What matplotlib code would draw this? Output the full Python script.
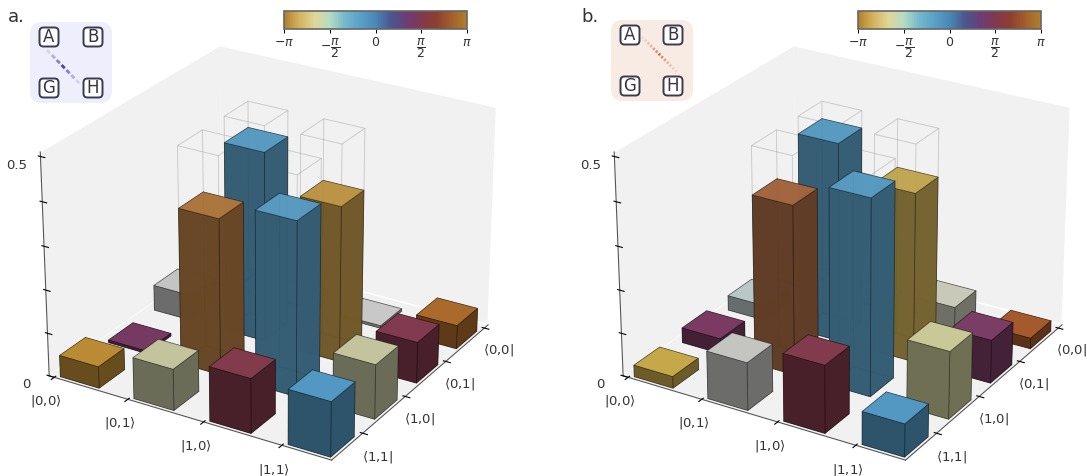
import numpy as np
import matplotlib
matplotlib.use('Agg')
import matplotlib.pyplot as plt
from matplotlib.colors import LinearSegmentedColormap, Normalize, to_rgb
from matplotlib.cm import ScalarMappable
from matplotlib.patches import FancyBboxPatch

kets = [r'$|0{,}0\rangle$', r'$|0{,}1\rangle$', r'$|1{,}0\rangle$', r'$|1{,}1\rangle$']
bras = [r'$\langle0{,}0|$', r'$\langle0{,}1|$', r'$\langle1{,}0|$', r'$\langle1{,}1|$']
phase_labels = [r'$-\pi$', r'$-\dfrac{\pi}{2}$', '$0$', r'$\dfrac{\pi}{2}$', r'$\pi$']
phase_ticks = [-np.pi, -np.pi / 2, 0, np.pi / 2, np.pi]

# rows are the bras <0,0| .. <1,1|, columns the kets |0,0> .. |1,1>
heights_a = [[0.004, 0.004, 0.006, 0.055],
             [0.06, 0.44, 0.36, 0.095],
             [0.006, 0.36, 0.40, 0.125],
             [0.05, 0.095, 0.125, 0.125]]
colors_a = [['#c8c8c8', '#c8c8c8', '#c8c8c8', '#aa6a2c'],
            ['#c4c4c4', '#5ba0c8', '#c49a48', '#823a50'],
            ['#763a62', '#b37a40', '#5ba0c8', '#c3c49e'],
            ['#bb8a35', '#c3c49e', '#823a4d', '#5298c2']]
heights_b = [[0.004, 0.004, 0.05, 0.025],
             [0.035, 0.46, 0.39, 0.10],
             [0.035, 0.39, 0.45, 0.155],
             [0.027, 0.11, 0.155, 0.075]]
colors_b = [['#c8c8c8', '#c8c8c8', '#c8c9b8', '#a55a2e'],
            ['#b8c8c6', '#5ba0c8', '#c9ad55', '#7a3d66'],
            ['#7a3a62', '#a86a42', '#5ba0c8', '#c9c998'],
            ['#c4a84a', '#c4c4c0', '#823a4d', '#5298c2']]
ideal_tall = [(1, 1), (2, 1), (1, 2), (2, 2)]
ideal_height = 0.5

dash_alpha = [0.15, 0.35, 0.6, 0.95, 0.6, 0.35, 0.15]
dot_alpha = [0.12, 0.2, 0.3, 0.4, 0.55, 0.7, 0.9, 0.7, 0.55, 0.4, 0.3, 0.2, 0.12]

cmap = LinearSegmentedColormap.from_list('phase', [
    '#b0802e', '#d4b45e', '#dfd698', '#b4dcc4', '#74b8cc', '#5ba0c8', '#4a88b5',
    '#4b568e', '#6a3e78', '#823850', '#8c3f30', '#a25f2a', '#b0802e'])
norm = Normalize(-np.pi, np.pi)


def draw_hist(fig, left, heights, colors):
    ax = fig.add_axes([left, -0.054, 0.547, 1.064], projection='3d')
    ax.view_init(elev=25.5, azim=-59)
    ax.set_box_aspect((4, 4, 3.0))
    xs, ys, hs, faces = [], [], [], []
    for j in range(4):
        for i in range(4):
            xs.append(i + 0.05)
            ys.append(j + 0.12)
            hs.append(heights[j][i])
            c = np.array(to_rgb(colors[j][i]))
            # the tall bars are a little see-through
            if (i, j) in ideal_tall:
                side = (*(c * 0.58), 0.9)
                top = (*c, 0.9)
            else:
                side = (*(c * 0.55), 1.0)
                top = (*c, 1.0)
            # order wanted by bar3d: -z, +z, -y, +y, -x, +x
            faces += [side, top, side, side, side, side]
    ax.bar3d(xs, ys, 0, 0.53, 0.53, hs, color=faces, edgecolor=(0, 0, 0, 0.35),
             linewidth=0.6, shade=False)
    for i, j in ideal_tall:
        ax.bar3d(i + 0.05, j + 0.12, 0, 0.53, 0.53, ideal_height, color=(0, 0, 0, 0),
                 edgecolor=(0.5, 0.5, 0.5, 0.2), linewidth=0.6, shade=False)
    ax.set_xlim(-0.07, 3.62)
    ax.set_ylim(3.7, -0.1)
    ax.set_zlim(0, 0.51)
    ax.set_xticks([0, 1, 2, 3])
    ax.set_xticklabels(kets, fontsize=9.5, color='#333333')
    ax.set_yticks([0, 1, 2, 3])
    ax.set_yticklabels(bras, fontsize=9.5, color='#333333')
    ax.set_zticks([0, 0.1, 0.2, 0.3, 0.4, 0.5])
    ax.set_zticklabels(['0', '', '', '', '', '0.5'], fontsize=9.5, color='#333333', va='top')
    ax.grid(False)
    ax.zaxis._axinfo['juggled'] = (1, 2, 0)
    for axis in (ax.xaxis, ax.yaxis, ax.zaxis):
        axis.set_pane_color((0.945, 0.945, 0.945, 1))
        axis.pane.set_edgecolor((1, 1, 1, 0))
        axis.line.set_color('#555555')
        axis.line.set_linewidth(0.8)
    ax.tick_params(axis='x', pad=0.5)
    ax.tick_params(axis='y', pad=1.5)
    ax.tick_params(axis='z', pad=1.5)
    return ax


def draw_inset(over, box, nodes, link, box_col, line_col, alphas, fill):
    over.add_patch(FancyBboxPatch((box[0], box[1]), box[2], box[3],
                                  boxstyle='round,pad=0,rounding_size=12', fc=box_col, ec='none'))
    n = len(alphas)
    (ax0, ay0), (ax1, ay1) = link
    for k, a in enumerate(alphas):
        over.plot([ax0 + (ax1 - ax0) * k / n, ax0 + (ax1 - ax0) * (k + fill) / n],
                  [ay0 + (ay1 - ay0) * k / n, ay0 + (ay1 - ay0) * (k + fill) / n],
                  color=line_col, alpha=a, lw=2, solid_capstyle='butt')
    for name, (cx, cy) in nodes.items():
        over.add_patch(FancyBboxPatch((cx - 9.5, cy - 9.5), 19, 19, boxstyle='round,pad=0,rounding_size=4',
                                      fc='white', ec='#3a3a50', lw=1.4, zorder=4))
        over.text(cx, cy, name, ha='center', va='center', fontsize=12, color='#333344', zorder=5)


def draw_bar(fig, x0):
    cax = fig.add_axes([x0 / 1087, 1 - 29 / 476, 183 / 1087, 18 / 476])
    cb = fig.colorbar(ScalarMappable(norm=norm, cmap=cmap), cax=cax, orientation='horizontal')
    cb.set_ticks(phase_ticks)
    cb.set_ticklabels(phase_labels, fontsize=9, color='#333333')
    cb.ax.tick_params(length=3, width=0.7, pad=2)
    cb.outline.set_linewidth(1.2)
    cb.outline.set_edgecolor('#666666')


fig = plt.figure(figsize=(10.87, 4.76), dpi=100)
draw_hist(fig, -0.029, heights_a, colors_a)
draw_hist(fig, 0.499, heights_b, colors_b)

over = fig.add_axes([0, 0, 1, 1])
over.set_xlim(0, 1087)
over.set_ylim(476, 0)
over.axis('off')
over.patch.set_alpha(0)
draw_inset(over, (30, 22, 82, 81),
           {'A': (49, 37), 'B': (93, 37), 'G': (49, 88), 'H': (93, 88)},
           ((47, 50), (81, 85)), '#eeeefc', '#4a35a8', dash_alpha, 0.65)
draw_inset(over, (611, 20, 82, 81),
           {'A': (630, 35), 'B': (673, 35), 'G': (630, 86), 'H': (673, 86)},
           ((642, 37), (678, 73)), '#f8ebe4', '#c8603a', dot_alpha, 0.55)
over.text(8, 17, 'a.', fontsize=13, color='#333333', va='center')
over.text(581, 17, 'b.', fontsize=13, color='#333333', va='center')

draw_bar(fig, 284)
draw_bar(fig, 858)

fig.savefig('out.png', dpi=100)
